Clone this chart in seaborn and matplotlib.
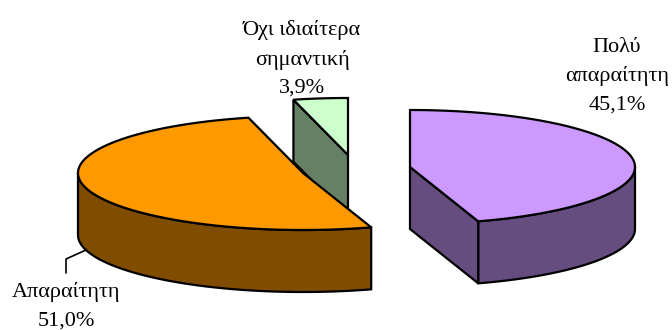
import numpy as np
import matplotlib.pyplot as plt
import seaborn as sns
from matplotlib.colors import to_rgb

categories = ["Πολύ\nαπαραίτητη", "Απαραίτητη", "Όχι ιδιαίτερα\nσημαντική"]
shares = [45.1, 51.0, 3.9]
top_colors = ["#CC99FF", "#FF9900", "#CCFFCC"]

# layout, in pixels of the 672x330 picture
centers = [(410, 167), (303, 173), (348, 155)]
label_pos = [(617, 76), (66, 306.5), (302, 59)]
RX, RY, DEPTH = 225, 57, 62
LW = 1.6

sns.set_theme(style="white")
plt.rcParams["font.family"] = ["Liberation Serif", "DejaVu Serif"]


def rim(c, a, b, dy=0):
    # clockwise from 12 o'clock, degrees
    t = np.radians(np.linspace(a, b, 120))
    return c[0] + RX * np.sin(t), c[1] - RY * np.cos(t) + dy


def side(ax, c, a, b, color):
    x, y = rim(c, a, b)
    x2, y2 = rim(c, a, b, DEPTH)
    ax.fill(np.r_[x, x2[::-1]], np.r_[y, y2[::-1]], fc=color, ec="black", lw=LW)


def radial(ax, c, a, color):
    x, y = rim(c, a, a)
    px = [c[0], x[0], x[0], c[0]]
    py = [c[1], y[0], y[0] + DEPTH, c[1] + DEPTH]
    ax.fill(px, py, fc=color, ec="black", lw=LW)


def wedge(ax, i, a, b):
    c = centers[i]
    dark = tuple(v * 0.5 for v in to_rgb(top_colors[i]))
    lo, hi = max(a, 90), min(b, 270)
    if hi > lo:
        side(ax, c, lo, hi, dark)
    for ang in (a, b):
        # only the faces turned to the viewer
        if i == 0 and ang == b or i == 2 and ang == a:
            radial(ax, c, ang, dark)
    x, y = rim(c, a, b)
    ax.fill(np.r_[c[0], x], np.r_[c[1], y], fc=top_colors[i], ec="black", lw=LW)


fig, ax = plt.subplots(figsize=(6.72, 3.30), dpi=100)
fig.subplots_adjust(0, 0, 1, 1)
ax.set_xlim(0, 672)
ax.set_ylim(330, 0)
ax.axis("off")

edges = np.r_[0, np.cumsum(shares)] / sum(shares) * 360
# back to front
for i in [2, 1, 0]:
    wedge(ax, i, edges[i], edges[i + 1])

# leader line of the orange slice
ax.plot([86, 66, 66], [250, 259, 273], color="black", lw=1.2)

for name, val, (x, y) in zip(categories, shares, label_pos):
    txt = name + "\n" + f"{val:.1f}%".replace(".", ",")
    ax.text(x, y, txt, ha="center", va="center", fontsize=16,
            color="black", linespacing=1.65, clip_on=False)

fig.savefig("out.png", dpi=100)
